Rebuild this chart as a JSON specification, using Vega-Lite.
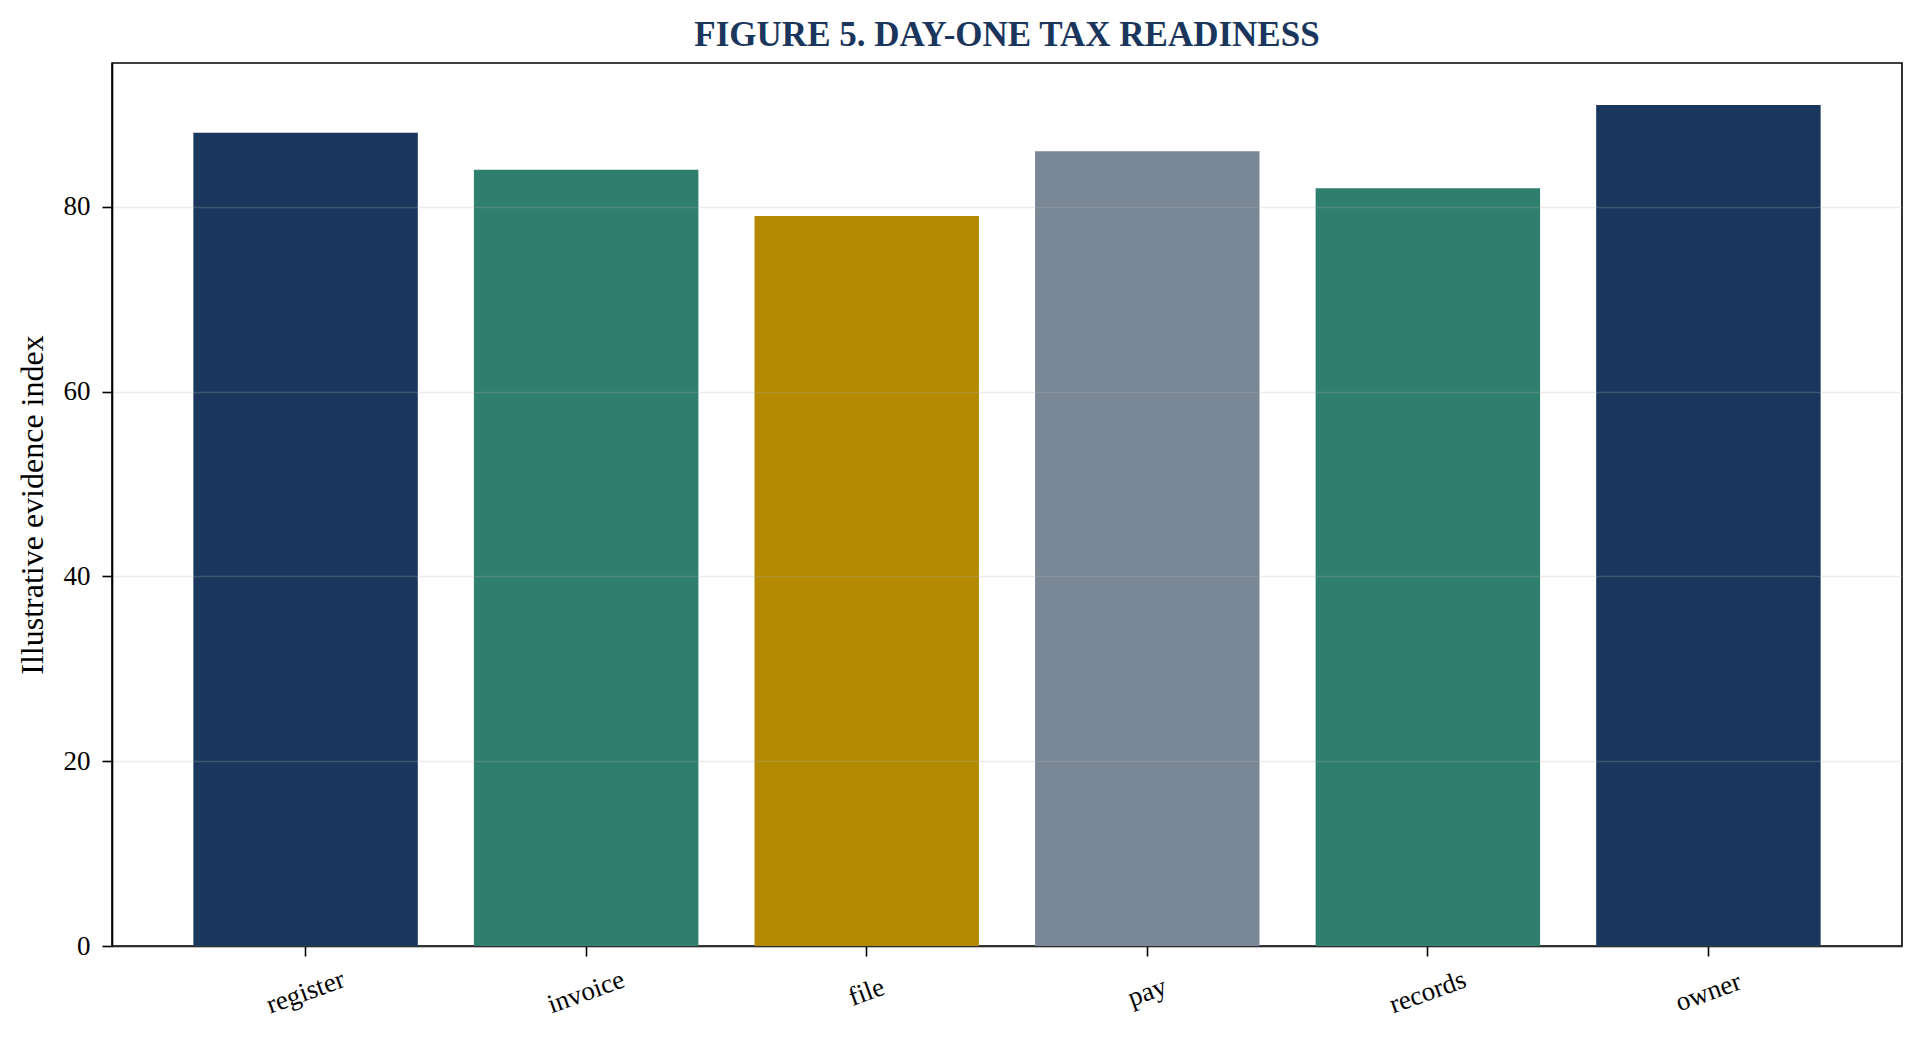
{
  "$schema": "https://vega.github.io/schema/vega-lite/v6.json",
  "autosize": "none",
  "width": 1790,
  "height": 883,
  "padding": {"left": 112, "top": 63, "right": 22, "bottom": 97},
  "background": "white",
  "config": {
    "font": "Liberation Serif",
    "view": {"stroke": "black", "strokeWidth": 1.6},
    "axis": {
      "domainColor": "black",
      "domainWidth": 1.6,
      "tickColor": "black",
      "tickWidth": 1.6,
      "tickSize": 10,
      "labelColor": "black",
      "labelFont": "Liberation Serif",
      "labelFontSize": 27,
      "titleFont": "Liberation Serif",
      "titleFontSize": 32,
      "titleFontWeight": "normal",
      "titleColor": "black"
    }
  },
  "title": {
    "text": "FIGURE 5. DAY-ONE TAX READINESS",
    "font": "Liberation Serif",
    "fontSize": 35,
    "fontWeight": "bold",
    "color": "#1a365d",
    "anchor": "middle",
    "offset": 10
  },
  "data": {
    "values": [
      {"step": "register", "score": 88},
      {"step": "invoice", "score": 84},
      {"step": "file", "score": 79},
      {"step": "pay", "score": 86},
      {"step": "records", "score": 82},
      {"step": "owner", "score": 91}
    ]
  },
  "mark": {"type": "bar"},
  "encoding": {
    "x": {
      "field": "step",
      "type": "nominal",
      "sort": null,
      "scale": {"paddingInner": 0.2, "paddingOuter": 0.29},
      "axis": {
        "title": null,
        "labelAngle": -20,
        "labelAlign": "center",
        "labelBaseline": "middle",
        "labelPadding": 36,
        "grid": false
      }
    },
    "y": {
      "field": "score",
      "type": "quantitative",
      "scale": {"domain": [0, 95.55], "nice": false, "zero": true},
      "axis": {
        "title": "Illustrative evidence index",
        "values": [0, 20, 40, 60, 80],
        "labelPadding": 12,
        "titlePadding": 14,
        "grid": true,
        "gridColor": "#b0b0b0",
        "gridOpacity": 0.25,
        "gridWidth": 1.5,
        "zindex": 1
      }
    },
    "color": {
      "field": "step",
      "type": "nominal",
      "legend": null,
      "scale": {
        "domain": ["register", "invoice", "file", "pay", "records", "owner"],
        "range": ["#19375d", "#2e7f6e", "#b38900", "#7a8796", "#2e7f6e", "#19375d"]
      }
    }
  }
}
